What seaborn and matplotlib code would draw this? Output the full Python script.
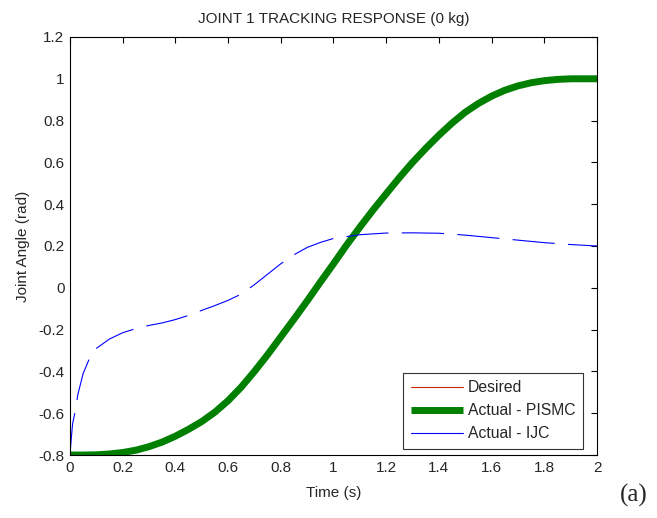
import numpy as np
import pandas as pd
import seaborn as sns
import matplotlib.pyplot as plt
from matplotlib.ticker import FixedLocator, FixedFormatter

# values
time_smooth = [0.0, 0.05, 0.1, 0.15, 0.2, 0.25, 0.3, 0.35, 0.4, 0.45, 0.5, 0.55, 0.6, 0.65,
               0.7, 0.75, 0.8, 0.85, 0.9, 0.95, 1.0, 1.05, 1.1, 1.15, 1.2, 1.25, 1.3, 1.35,
               1.4, 1.45, 1.5, 1.55, 1.6, 1.65, 1.7, 1.75, 1.8, 1.85, 1.9, 1.95, 2.0]
desired = [-0.80, -0.80, -0.799, -0.795, -0.788, -0.777, -0.76, -0.738, -0.71, -0.677, -0.64,
           -0.595, -0.54, -0.475, -0.40, -0.32, -0.235, -0.15, -0.063, 0.027, 0.115, 0.205,
           0.29, 0.372, 0.45, 0.527, 0.60, 0.667, 0.73, 0.788, 0.84, 0.882, 0.917, 0.945,
           0.966, 0.981, 0.991, 0.997, 1.0, 1.0, 1.0]
pismc = [-0.80, -0.80, -0.799, -0.795, -0.788, -0.777, -0.76, -0.738, -0.71, -0.677, -0.64,
         -0.595, -0.54, -0.475, -0.40, -0.32, -0.235, -0.15, -0.063, 0.027, 0.115, 0.205,
         0.29, 0.372, 0.45, 0.527, 0.60, 0.667, 0.73, 0.788, 0.84, 0.882, 0.917, 0.945,
         0.966, 0.981, 0.991, 0.997, 1.0, 1.0, 1.0]

time_ijc = [0.0, 0.005, 0.01, 0.02, 0.03, 0.05, 0.075, 0.1, 0.15, 0.2, 0.25, 0.3, 0.35,
            0.4, 0.45, 0.5, 0.55, 0.6, 0.65, 0.7, 0.75, 0.8, 0.85, 0.9, 0.95, 1.0,
            1.1, 1.2, 1.3, 1.4, 1.5, 1.6, 1.7, 1.8, 1.9, 2.0]
ijc = [-0.80, -0.72, -0.65, -0.59, -0.51, -0.41, -0.335, -0.29, -0.245, -0.215, -0.195, -0.18, -0.168,
       -0.152, -0.132, -0.108, -0.085, -0.06, -0.03, 0.015, 0.065, 0.115, 0.158, 0.193, 0.217, 0.236,
       0.254, 0.262, 0.263, 0.261, 0.252, 0.24, 0.228, 0.216, 0.207, 0.20]

x_ticks = [0, 0.2, 0.4, 0.6, 0.8, 1.0, 1.2, 1.4, 1.6, 1.8, 2.0]
x_labels = ['0', '0.2', '0.4', '0.6', '0.8', '1', '1.2', '1.4', '1.6', '1.8', '2']
y_ticks = [-0.8, -0.6, -0.4, -0.2, 0, 0.2, 0.4, 0.6, 0.8, 1.0, 1.2]
y_labels = ['-0.8', '-0.6', '-0.4', '-0.2', '0', '0.2', '0.4', '0.6', '0.8', '1', '1.2']

sns.set_style("white")
plt.rcParams['font.family'] = ['Liberation Sans', 'DejaVu Sans']

smooth_df = pd.DataFrame({'t': time_smooth, 'desired': desired, 'pismc': pismc})
ijc_df = pd.DataFrame({'t': time_ijc, 'ijc': ijc})

fig = plt.figure(figsize=(6.57, 5.18), dpi=100)
ax = fig.add_axes([0.1065, 0.1216, 0.8022, 0.807])

sns.lineplot(data=smooth_df, x='t', y='desired', ax=ax, color='#cc2200', lw=0.8, label='Desired')
sns.lineplot(data=smooth_df, x='t', y='pismc', ax=ax, color='#007f00', lw=5, label='Actual - PISMC',
             solid_capstyle='butt')
sns.lineplot(data=ijc_df, x='t', y='ijc', ax=ax, color='#0000ff', lw=0.8, label='Actual - IJC')
ax.lines[-1].set_dashes([38, 12])

ax.set_xlim(0, 2)
ax.set_ylim(-0.8, 1.2)
ax.xaxis.set_major_locator(FixedLocator(x_ticks))
ax.xaxis.set_major_formatter(FixedFormatter(x_labels))
ax.yaxis.set_major_locator(FixedLocator(y_ticks))
ax.yaxis.set_major_formatter(FixedFormatter(y_labels))
ax.tick_params(direction='in', length=4, width=0.8, top=True, right=True,
               labelsize=11, color='black', pad=4)
for s in ax.spines.values():
    s.set_color('black')
    s.set_linewidth(0.8)

ax.set_title('JOINT 1 TRACKING RESPONSE (0 kg)', fontsize=11, pad=10)
ax.set_xlabel('Time (s)', fontsize=11, labelpad=8)
ax.set_ylabel('Joint Angle (rad)', fontsize=11, labelpad=6)

leg = ax.legend(loc='lower right', bbox_to_anchor=(0.9734, 0.0144), borderaxespad=0,
                fontsize=11.3, handlelength=3.3, frameon=True, fancybox=False,
                labelspacing=0.5, handletextpad=0.3, borderpad=0.5)
leg.get_frame().set_edgecolor('black')
leg.get_frame().set_linewidth(0.8)
leg.get_lines()[2].set_linestyle('-')

fig.text(0.986, 0.044, '(a)', family='Liberation Serif', fontsize=18, ha='right', va='center')

plt.savefig('out.png', dpi=100)
